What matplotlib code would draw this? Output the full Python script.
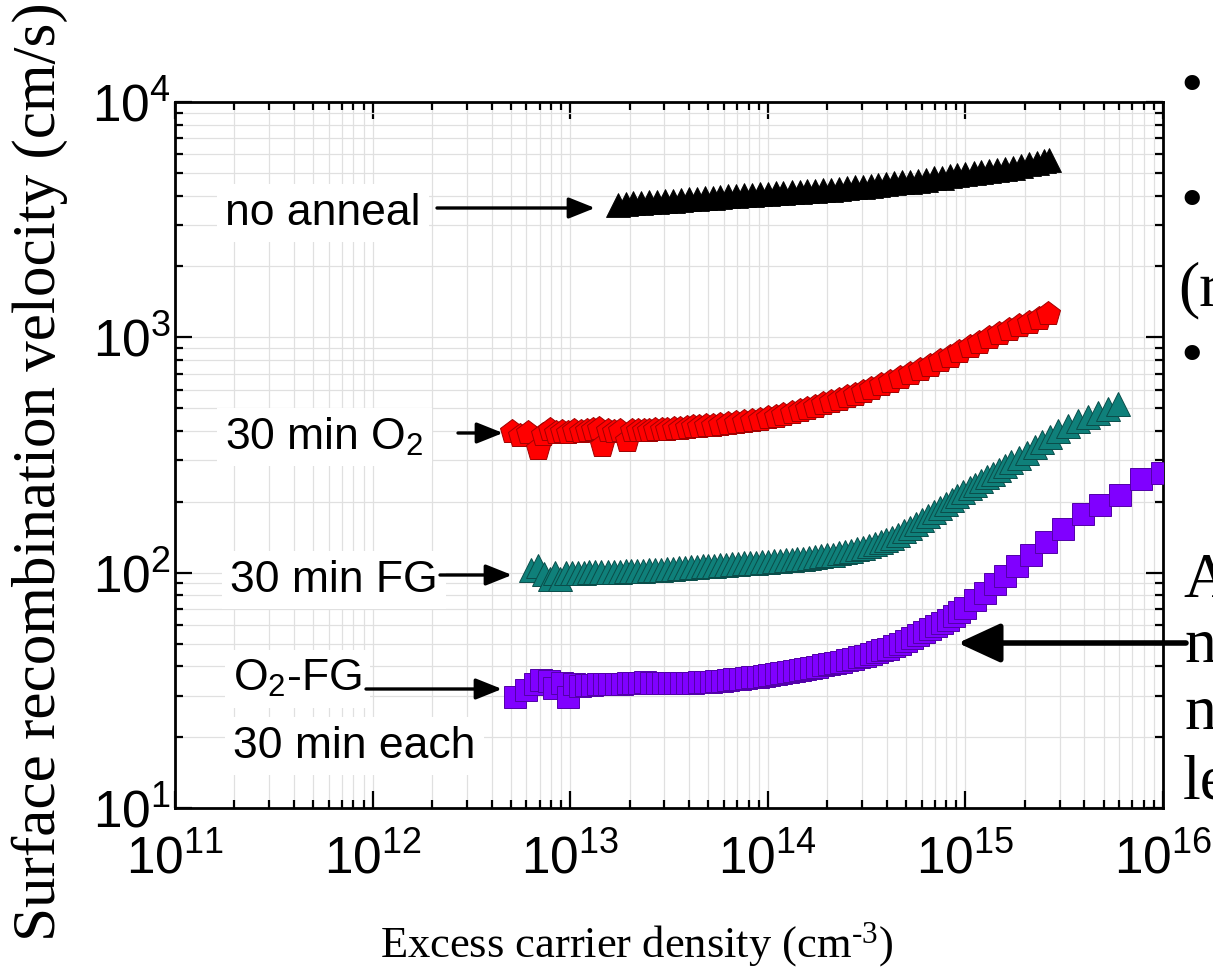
import matplotlib
matplotlib.use("Agg")
import matplotlib.pyplot as plt
from matplotlib.ticker import LogLocator, NullFormatter

# ---------------- data ----------------
black_x = [1.74e13, 1.91e13, 2.09e13, 2.29e13, 2.51e13, 2.75e13, 3.02e13, 3.31e13, 3.63e13, 3.98e13,
           4.37e13, 4.79e13, 5.25e13, 5.75e13, 6.31e13, 6.92e13, 7.59e13, 8.32e13, 9.12e13,
           1.00e14, 1.10e14, 1.20e14, 1.32e14, 1.45e14, 1.58e14, 1.74e14, 1.91e14, 2.09e14, 2.29e14,
           2.51e14, 2.75e14, 3.02e14, 3.31e14, 3.63e14, 3.98e14, 4.37e14, 4.79e14, 5.25e14, 5.75e14,
           6.31e14, 6.92e14, 7.59e14, 8.32e14, 9.12e14,
           1.00e15, 1.10e15, 1.20e15, 1.32e15, 1.45e15, 1.58e15, 1.74e15, 1.91e15, 2.09e15, 2.29e15,
           2.51e15, 2.65e15]
black_y = [3640, 3690, 3715, 3733, 3750, 3776, 3793, 3811, 3837, 3855,
           3882, 3908, 3926, 3954, 3972, 3990, 4009, 4036, 4055,
           4074, 4093, 4111, 4140, 4159, 4178, 4198, 4227, 4246, 4276,
           4305, 4335, 4365, 4395, 4436, 4467, 4508, 4550, 4592, 4634,
           4677, 4732, 4775, 4831, 4875,
           4920, 4977, 5035, 5093, 5152, 5212, 5260, 5346, 5433, 5521,
           5623, 5689]

red_x = [5.07e12, 5.6e12, 6.1e12, 6.9e12, 7.3e12, 7.9e12, 8.5e12, 9.1e12, 9.8e12,
         1.05e13, 1.13e13, 1.21e13, 1.30e13, 1.40e13, 1.45e13, 1.55e13, 1.66e13, 1.78e13, 1.94e13,
         2.05e13, 2.2e13, 2.35e13, 2.5e13, 2.7e13, 2.9e13, 3.1e13, 3.35e13, 3.6e13, 3.9e13,
         4.2e13, 4.5e13, 4.85e13, 5.25e13, 5.75e13, 6.3e13, 6.9e13, 7.6e13, 8.3e13, 9.1e13,
         1.0e14, 1.1e14, 1.2e14, 1.32e14, 1.45e14, 1.58e14, 1.74e14, 1.91e14, 2.09e14, 2.29e14,
         2.51e14, 2.75e14, 3.02e14, 3.31e14, 3.72e14, 4.17e14, 4.68e14, 5.25e14, 5.89e14, 6.61e14,
         7.41e14, 8.32e14, 9.33e14,
         1.05e15, 1.17e15, 1.32e15, 1.48e15, 1.66e15, 1.86e15, 2.09e15, 2.35e15, 2.62e15]
red_y = [395, 380, 392, 336, 386, 405, 392, 396, 394,
         398, 395, 399, 402, 408, 347, 398, 397, 400, 363,
         398, 400, 401, 400, 402, 404, 405, 407, 409, 412,
         414, 417, 418, 421, 424, 428, 432, 436, 441, 447,
         453, 459, 467, 475, 485, 495, 507, 519, 531, 544,
         557, 571, 587, 604, 627, 649, 673, 700, 728, 755,
         791, 828, 867,
         906, 946, 989, 1030, 1072, 1112, 1153, 1202, 1253]

teal_x = [6.3e12, 6.9e12, 7.4e12, 7.9e12, 8.4e12, 8.9e12, 9.5e12,
          1.02e13, 1.09e13, 1.17e13, 1.25e13, 1.34e13, 1.44e13, 1.55e13, 1.66e13, 1.78e13, 1.91e13,
          2.04e13, 2.19e13, 2.34e13, 2.51e13, 2.69e13, 2.88e13, 3.09e13, 3.31e13, 3.55e13, 3.80e13,
          4.07e13, 4.37e13, 4.68e13, 5.01e13, 5.37e13, 5.75e13, 6.17e13, 6.61e13, 7.08e13, 7.59e13,
          8.13e13, 8.71e13, 9.33e13,
          1.0e14, 1.07e14, 1.15e14, 1.23e14, 1.32e14, 1.41e14, 1.51e14, 1.62e14, 1.74e14, 1.86e14,
          2.0e14, 2.14e14, 2.29e14, 2.45e14, 2.63e14, 2.82e14, 3.02e14, 3.24e14, 3.47e14, 3.72e14,
          3.98e14, 4.27e14, 4.57e14, 4.90e14, 5.25e14, 5.62e14, 6.03e14, 6.46e14, 6.92e14, 7.41e14,
          7.94e14, 8.51e14, 9.12e14, 9.77e14,
          1.05e15, 1.12e15, 1.20e15, 1.29e15, 1.38e15, 1.48e15, 1.58e15, 1.70e15, 1.86e15, 2.04e15,
          2.24e15, 2.45e15, 2.69e15, 2.95e15, 3.31e15, 3.72e15, 4.17e15, 4.68e15, 5.25e15, 5.9e15]
teal_y = [103, 107, 99, 94, 100, 94, 100,
          100, 99.5, 100, 100.5, 100.7, 101, 101, 101, 101, 101.5,
          101.6, 102, 102, 102.5, 103, 103, 103.5, 104, 104.5, 105,
          105.4, 106, 106.4, 106.7, 107, 107.6, 108, 108.6, 109, 109.6,
          110, 110.4, 110.7,
          111, 111.7, 112, 112.7, 113.5, 114, 114.8, 115.6, 116.4, 117.2,
          118.3, 119.4, 120.8, 122.2, 123.9, 125.6, 127.6, 129.7, 132, 135,
          138, 141, 145, 150, 155, 161, 167, 174, 181, 188,
          196, 204, 212, 220,
          228, 236, 245, 254, 263, 273, 284, 294, 308, 324,
          341, 359, 378, 398, 422, 442, 459, 479, 495, 519]

purple_x = [5.25e12, 6.0e12, 6.6e12, 7.1e12, 7.8e12, 8.3e12, 9.1e12, 9.8e12,
            1.05e13, 1.12e13, 1.2e13, 1.29e13, 1.38e13, 1.48e13, 1.58e13, 1.70e13, 1.82e13, 1.95e13,
            2.09e13, 2.24e13, 2.40e13, 2.57e13, 2.75e13, 2.95e13, 3.16e13, 3.39e13, 3.63e13, 3.89e13,
            4.17e13, 4.47e13, 4.79e13, 5.13e13, 5.50e13, 5.89e13, 6.31e13, 6.76e13, 7.24e13, 7.76e13,
            8.32e13, 8.91e13, 9.55e13,
            1.02e14, 1.10e14, 1.17e14, 1.26e14, 1.35e14, 1.45e14, 1.55e14, 1.66e14, 1.78e14, 1.91e14,
            2.04e14, 2.19e14, 2.34e14, 2.51e14, 2.69e14, 2.88e14, 3.09e14, 3.31e14, 3.55e14, 3.80e14,
            4.07e14, 4.37e14, 4.68e14, 5.01e14, 5.37e14, 5.75e14, 6.17e14, 6.61e14, 7.08e14, 7.59e14,
            8.13e14, 8.71e14, 9.33e14,
            1.0e15, 1.12e15, 1.26e15, 1.41e15, 1.58e15, 1.82e15, 2.14e15, 2.57e15, 3.12e15, 3.94e15,
            4.79e15, 6.03e15, 7.76e15, 9.9e15]
purple_y = [29.6, 31.6, 33.5, 35.1, 34.7, 32.4, 33.9, 29.5,
            33.5, 33.1, 33.3, 33.4, 33.5, 33.6, 33.6, 33.7, 33.7, 33.9,
            34.0, 34.0, 34.3, 34.1, 33.9, 33.9, 33.9, 33.9, 34.0, 34.0,
            34.1, 34.2, 34.3, 34.4, 34.6, 34.8, 34.9, 35.2, 35.4, 35.6,
            35.9, 36.1, 36.4,
            36.7, 37.1, 37.4, 37.8, 38.2, 38.5, 39.0, 39.4, 39.9, 40.4,
            40.9, 41.4, 41.9, 42.5, 43.1, 43.7, 44.3, 45.0, 45.8, 46.7,
            47.6, 48.8, 50.0, 51.3, 52.7, 54.3, 56.0, 57.7, 59.4, 61.2,
            63.1, 65.5, 68.1,
            70.8, 76.4, 82.2, 89.1, 96.6, 106.4, 119, 135.5, 153, 177,
            193, 214, 250, 265]

series_labels = ["no anneal", "30 min O$_\\mathdefault{2}$", "30 min FG", "O$_\\mathdefault{2}$-FG"]
extra_label = "30 min each"
x_label = "Excess carrier density (cm$^{\\text{-3}}$)"
y_label = "Surface recombination velocity (cm/s)"

# ---------------- style ----------------
plt.rcParams['font.family'] = ['Liberation Sans', 'DejaVu Sans']
plt.rcParams['mathtext.fontset'] = 'custom'
plt.rcParams['mathtext.rm'] = 'Liberation Serif'
plt.rcParams['mathtext.it'] = 'Liberation Serif:italic'
plt.rcParams['mathtext.bf'] = 'Liberation Serif:bold'

W, H = 1213, 980
fig = plt.figure(figsize=(W / 100, H / 100), dpi=100)
L, R, T, B = 175, 1163, 102, 808
ax = fig.add_axes([L / W, 1 - B / H, (R - L) / W, (B - T) / H])
ax.set_xscale('log')
ax.set_yscale('log')
ax.set_xlim(1e11, 1e16)
ax.set_ylim(10, 1e4)

ax.set_axisbelow(True)
ax.grid(True, which='both', color='#e0e0e0', lw=0.9)

ax.plot(black_x, black_y, ls='none', marker='^', ms=17.5, mfc='black', mec='black', mew=0.6, zorder=3)
ax.plot(red_x, red_y, ls='none', marker='p', ms=18.5, mfc='#ff0000', mec='#a00000', mew=0.7, zorder=3)
ax.plot(teal_x, teal_y, ls='none', marker='^', ms=17.5, mfc='#0f807a', mec='#0a4d4a', mew=0.7, zorder=3)
ax.plot(purple_x, purple_y, ls='none', marker='s', ms=15.5, mfc='#8000ff', mec='#5200a8', mew=0.7, zorder=3)

for loc in (ax.xaxis, ax.yaxis):
    loc.set_major_locator(LogLocator(base=10, numticks=20))
    loc.set_minor_locator(LogLocator(base=10, subs=range(2, 10), numticks=200))
    loc.set_minor_formatter(NullFormatter())
ax.tick_params(which='both', direction='in', top=True, right=True, width=1.6, labelsize=37)
ax.tick_params(which='major', length=12)
ax.tick_params(which='minor', length=6)
ax.tick_params(axis='x', pad=19)
ax.tick_params(axis='y', pad=3)
for s in ax.spines.values():
    s.set_linewidth(2.0)

# ---------------- annotations ----------------
def fx(px):
    return (px - L) / (R - L)

def fy(py):
    return (B - py) / (B - T)

box = dict(facecolor='white', edgecolor='none', pad=6)
lab_kw = dict(transform=ax.transAxes, fontsize=32, va='center', ha='left', bbox=box, zorder=5)
ax.text(fx(225), fy(213), series_labels[0], **lab_kw)
ax.text(fx(225), fy(437), series_labels[1], **lab_kw)
ax.text(fx(230), fy(580), series_labels[2], **lab_kw)
ax.text(fx(233), fy(679), series_labels[3], **lab_kw)
ax.text(fx(233), fy(746), extra_label, **lab_kw)

small_arrow = dict(arrowstyle='-|>,head_length=0.8,head_width=0.32', lw=2.4, color='black',
                   mutation_scale=20, shrinkA=0, shrinkB=0)
for (x0, x1, py) in [(437, 595, 208), (458, 503, 433), (440, 512, 575), (366, 502, 689)]:
    ax.annotate('', xy=(fx(x1), fy(py)), xytext=(fx(x0), fy(py)), xycoords='axes fraction',
                textcoords='axes fraction', arrowprops=small_arrow, zorder=6)

big_arrow = dict(arrowstyle='-|>,head_length=1.3,head_width=0.6', lw=4, color='black',
                 mutation_scale=20, shrinkA=0, shrinkB=0)
ax.annotate('', xy=(fx(958), fy(643)), xytext=(fx(1186), fy(643)), xycoords='axes fraction',
            textcoords='axes fraction', arrowprops=big_arrow, annotation_clip=False, zorder=6)

# axis labels
fig.text(40 / W, 1 - 472 / H, y_label, rotation=90, ha='center', va='center',
         family='Liberation Serif', fontsize=44)
fig.text(636 / W, 1 - 945 / H, x_label, ha='center', va='center',
         family='Liberation Serif', fontsize=32)

# clipped slide text on the right
side_kw = dict(family='Liberation Serif', fontsize=46, ha='left', va='baseline')
for (px, py, s) in [(1180, 104, '\u2022'), (1180, 219, '\u2022'), (1180, 374, '\u2022'),
                    (1178, 305, '(r'), (1183, 597, 'A'), (1185, 662, 'n'),
                    (1185, 729, 'n'), (1183, 798, 'le')]:
    fig.text(px / W, 1 - py / H, s, **side_kw)

fig.savefig('out.png', dpi=100)
